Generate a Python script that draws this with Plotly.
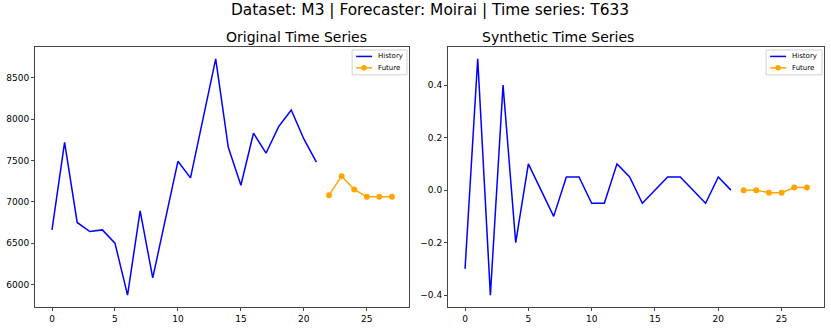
import plotly.graph_objects as go
from plotly.subplots import make_subplots

# original series (M3, T633)
orig_hist_x = list(range(0, 22))
orig_hist_y = [6660, 7720, 6750, 6640, 6660, 6500, 5870, 6890, 6080, 6780,
               7490, 7290, 8010, 8730, 7660, 7200, 7830, 7590, 7910, 8110,
               7760, 7480]
orig_fut_x = list(range(22, 28))
orig_fut_y = [7080, 7310, 7150, 7060, 7060, 7060]

# synthetic series
syn_hist_x = list(range(0, 22))
syn_hist_y = [-0.3, 0.5, -0.4, 0.4, -0.2, 0.1, 0.0, -0.1, 0.05, 0.05,
              -0.05, -0.05, 0.1, 0.05, -0.05, 0.0, 0.05, 0.05, 0.0, -0.05,
              0.05, 0.0]
syn_fut_x = list(range(22, 28))
syn_fut_y = [0.0, 0.0, -0.01, -0.01, 0.01, 0.01]

legend_names = ["History", "Future"]
legend_colors = ["blue", "orange"]

FONT = "DejaVu Sans"
W, H = 831, 330
ML, MR, MT, MB = 34, 6, 47, 21
PLOT_H = H - MT - MB

fig = make_subplots(rows=1, cols=2, horizontal_spacing=0.05)

def add_pair(hx, hy, fx, fy, col):
    fig.add_trace(go.Scatter(x=hx, y=hy, mode="lines", name="History",
                             line=dict(color="blue", width=1.5),
                             showlegend=False), row=1, col=col)
    fig.add_trace(go.Scatter(x=fx, y=fy, mode="lines+markers", name="Future",
                             line=dict(color="orange", width=1.5),
                             marker=dict(color="orange", size=6),
                             showlegend=False), row=1, col=col)

add_pair(orig_hist_x, orig_hist_y, orig_fut_x, orig_fut_y, 1)
add_pair(syn_hist_x, syn_hist_y, syn_fut_x, syn_fut_y, 2)

axis_style = dict(showgrid=False, zeroline=False, showline=True, mirror=True,
                  linecolor="#444444", linewidth=1, ticks="outside",
                  ticklen=3, tickcolor="#444444",
                  tickfont=dict(family=FONT, size=9, color="black"))

fig.update_xaxes(axis_style)
fig.update_yaxes(axis_style)
fig.update_xaxes(range=[-1.35, 28.35], tick0=0, dtick=5, domain=[0, 0.474], row=1, col=1)
fig.update_xaxes(range=[-1.35, 28.35], tick0=0, dtick=5, domain=[0.5234, 1], row=1, col=2)
fig.update_yaxes(range=[5727, 8873], dtick=500, row=1, col=1)
fig.update_yaxes(range=[-0.445, 0.545], dtick=0.2, tickformat=".1f", row=1, col=2)

# matplotlib-style compact legend in the upper right of each panel
def draw_legend(xname, yname, ax_px_width, box_w):
    xr, yr = xname + " domain", yname + " domain"
    fx = lambda px: 1 - px / ax_px_width      # px measured from right edge
    fy = lambda px: 1 - px / PLOT_H           # px measured from top edge
    left = 2 + box_w
    fig.add_shape(type="rect", xref=xr, yref=yr, x0=fx(left), x1=fx(2),
                  y0=fy(28), y1=fy(3), line=dict(color="#d0d0d0", width=1),
                  fillcolor="white", layer="above")
    for i, (name, color) in enumerate(zip(legend_names, legend_colors)):
        yy = fy(9.5 + i * 11.5)
        fig.add_shape(type="line", xref=xr, yref=yr, x0=fx(left - 4),
                      x1=fx(left - 20), y0=yy, y1=yy,
                      line=dict(color=color, width=1.5), layer="above")
        if name == "Future":
            r = 2.8
            cx = left - 12
            fig.add_shape(type="circle", xref=xr, yref=yr,
                          x0=fx(cx + r), x1=fx(cx - r),
                          y0=fy(9.5 + i * 11.5 + r), y1=fy(9.5 + i * 11.5 - r),
                          line=dict(color=color, width=0), fillcolor=color,
                          layer="above")
        fig.add_annotation(text=name, xref=xr, yref=yr, x=fx(left - 24), y=yy,
                           xanchor="left", yanchor="middle", showarrow=False,
                           font=dict(family=FONT, size=7, color="black"))

draw_legend("x", "y", 375, 55)
draw_legend("x2", "y2", 377, 56)

fig.update_layout(
    width=W, height=H,
    margin=dict(l=ML, r=MR, t=MT, b=MB),
    plot_bgcolor="white", paper_bgcolor="white",
    font=dict(family=FONT, color="black"),
    showlegend=False,
)
fig.add_annotation(text="Dataset: M3 | Forecaster: Moirai | Time series: T633",
                   x=0.5, y=1.0, xref="paper", yref="paper", yanchor="bottom",
                   yshift=26, showarrow=False, font=dict(size=15.4))
fig.add_annotation(text="Original Time Series", x=0.239, y=1.0, xref="paper",
                   yref="paper", yanchor="bottom", showarrow=False,
                   font=dict(size=14))
fig.add_annotation(text="Synthetic Time Series", x=0.7617, y=1.0, xref="paper",
                   yref="paper", yanchor="bottom", showarrow=False,
                   font=dict(size=14))

fig.write_html("out.html", config={"displayModeBar": False},
               post_script="document.body.style.margin='0';")
